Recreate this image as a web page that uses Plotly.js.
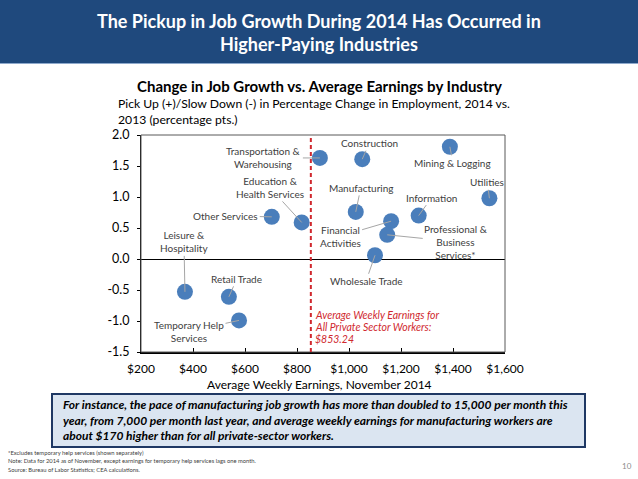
<!DOCTYPE html>
<html>
<head>
<meta charset="utf-8">
<script src="https://cdn.plot.ly/plotly-3.0.1.min.js"></script>
<style>
  html, body { margin: 0; padding: 0; background: #ffffff; }
  #chart { width: 638px; height: 479px; }
</style>
</head>
<body>
<div id="chart"></div>
<script>
// ---------- DATA ----------
const industries = [
  "Transportation & Warehousing", "Construction", "Mining & Logging", "Utilities",
  "Manufacturing", "Information", "Other Services", "Education & Health Services",
  "Financial Activities", "Professional & Business Services*", "Wholesale Trade",
  "Leisure & Hospitality", "Retail Trade", "Temporary Help Services"
];
const labelText = [
  "Transportation &<br>Warehousing", "Construction", "Mining & Logging", "Utilities",
  "Manufacturing", "Information", "Other Services", "Education &<br>Health Services",
  "Financial<br>Activities", "Professional &<br>Business<br>Services*", "Wholesale Trade",
  "Leisure &<br>Hospitality", "Retail Trade", "Temporary Help<br>Services"
];
const earnings = [888, 1051, 1388, 1540, 1026, 1268, 703, 818, 1162, 1147, 1100, 369, 538, 577];
const change   = [1.63, 1.61, 1.81, 0.98, 0.76, 0.70, 0.68, 0.59, 0.61, 0.39, 0.06, -0.53, -0.61, -0.99];
const avgPrivateEarnings = 853.24;

const xTickVals = [200, 400, 600, 800, 1000, 1200, 1400, 1600];
const xTickText = ["$200", "$400", "$600", "$800", "$1,000", "$1,200", "$1,400", "$1,600"];
const yTickVals = [-1.5, -1.0, -0.5, 0.0, 0.5, 1.0, 1.5, 2.0];
const yTickText = ["-1.5", "-1.0", "-0.5", "0.0", "0.5", "1.0", "1.5", "2.0"];

const bannerLines = ["The Pickup in Job Growth During 2014 Has Occurred in", "Higher-Paying Industries"];
const chartTitle = "Change in Job Growth vs. Average Earnings by Industry";
const yDescription = ["Pick Up (+)/Slow Down (-) in Percentage Change in Employment, 2014 vs.", "2013 (percentage pts.)"];
const xTitle = "Average Weekly Earnings, November 2014";
const avgLines = ["Average Weekly Earnings for", "All Private Sector Workers:", "$" + avgPrivateEarnings.toFixed(2)];
const calloutLines = [
  "For instance, the pace of manufacturing job growth has more than doubled to 15,000 per month this",
  "year, from 7,000 per month last year, and average weekly earnings for manufacturing workers are",
  "about $170 higher than for all private-sector workers."
];
const footLines = [
  "*Excludes temporary help services (shown separately)",
  "Note: Data for 2014 as of November, except earnings for temporary help services lags one month.",
  "Source: Bureau of Labor Statistics; CEA calculations."
];

// ---------- LAYOUT HELPERS (label offsets in pixels) ----------
const labelOffsets = [
  [-56, 0], [7, -16], [3, 16], [-2, -16], [5, -24], [13, -18], [-46, -1],
  [-32, -35], [-51, 15], [69, 7], [-9, 26], [-1, -50], [8, -18], [-50, 11]
];

const M = { l: 141, r: 133, t: 135, b: 127 };
const W = 638, H = 479;
const PW = W - M.l - M.r, PH = H - M.t - M.b;
const px = v => (v - M.l) / PW;        // pixel x -> paper x
const py = v => (H - M.b - v) / PH;    // pixel y -> paper y

const FONT = "Lato, 'Open Sans', sans-serif";

const annotations = [];
function textAt(x, y, text, font, xanchor) {
  annotations.push({
    xref: "paper", yref: "paper", x: px(x), y: py(y),
    xanchor: xanchor || "center", yanchor: "middle",
    text: text, showarrow: false, align: xanchor || "center", font: font
  });
}

// point labels with leader lines
industries.forEach((name, i) => {
  annotations.push({
    x: earnings[i], y: change[i], xref: "x", yref: "y",
    text: labelText[i], showarrow: true, arrowhead: 0, arrowwidth: 1,
    arrowcolor: "#a6a6a6", standoff: 0, startstandoff: 0,
    ax: labelOffsets[i][0], ay: labelOffsets[i][1],
    font: { family: FONT, size: 10, color: "#404040" }, align: "center"
  });
});

// red average annotation
avgLines.forEach((t, i) => textAt(313, 315 + 12 * i, "<i>" + t + "</i>",
  { family: FONT, size: 10.5, color: "#d0282e" }, "left"));

// banner title
bannerLines.forEach((t, i) => textAt(319, 21 + 23 * i, "<b>" + t + "</b>",
  { family: FONT, size: 18, color: "#ffffff" }));

// chart title
textAt(319, 86, "<b>" + chartTitle + "</b>", { family: FONT, size: 15, color: "#000000" });

// y-axis description (horizontal)
yDescription.forEach((t, i) => textAt(116, 103 + 16 * i, t,
  { family: FONT, size: 12.2, color: "#000000" }, "left"));

// x-axis title
textAt(319, 384.5, xTitle, { family: FONT, size: 12, color: "#000000" });

// callout box text (one block, so lines never overlap)
textAt(61, 420, "<b><i>" + calloutLines.join("<br>") + "</i></b>",
  { family: FONT, size: 12, color: "#000000" }, "left");

// footnotes
footLines.forEach((t, i) => textAt(6, 452 + 8.6 * i, t,
  { family: FONT, size: 5.8, color: "#404040" }, "left"));
textAt(627, 466, "10", { family: FONT, size: 8, color: "#8c8c8c" });

const shapes = [
  // banner
  { type: "rect", xref: "paper", yref: "paper", x0: px(0), x1: px(W), y0: py(0), y1: py(63),
    fillcolor: "#1f497d", line: { width: 0 }, layer: "below" },
  { type: "line", xref: "paper", yref: "paper", x0: px(0), x1: px(W), y0: py(63.5), y1: py(63.5),
    line: { color: "#8ea9cc", width: 1 } },
  // plot frame
  { type: "rect", xref: "paper", yref: "paper", x0: 0, x1: 1, y0: 0, y1: 1,
    line: { color: "#595959", width: 1 }, layer: "above" },
  // average earnings line
  { type: "line", xref: "x", yref: "paper", x0: avgPrivateEarnings, x1: avgPrivateEarnings, y0: 0, y1: 1,
    line: { color: "#d0282e", width: 2, dash: "4px,3px" } },
  // callout box
  { type: "rect", xref: "paper", yref: "paper", x0: px(52), x1: px(585), y0: py(447), y1: py(394),
    fillcolor: "#dbe5f1", line: { color: "#1f3864", width: 2 }, layer: "below" }
];

const trace = {
  type: "scatter", mode: "markers", x: earnings, y: change, text: industries,
  hoverinfo: "text+x+y",
  marker: { size: 16, color: "#4a7ebb", line: { width: 0 } },
  cliponaxis: false
};

const layout = {
  width: W, height: H,
  margin: M,
  paper_bgcolor: "#ffffff", plot_bgcolor: "#ffffff",
  showlegend: false,
  font: { family: FONT, color: "#000000" },
  xaxis: {
    range: [200, 1600], tickvals: xTickVals, ticktext: xTickText,
    showgrid: false, zeroline: false, showline: true, linecolor: "#000000", linewidth: 1.5,
    ticks: "inside", ticklen: 4, tickcolor: "#000000", tickwidth: 1, ticklabelstandoff: 5,
    tickfont: { family: FONT, size: 12, color: "#000000" }, fixedrange: true
  },
  yaxis: {
    range: [-1.5, 2.0], tickvals: yTickVals, ticktext: yTickText,
    showgrid: false, zeroline: true, zerolinecolor: "#000000", zerolinewidth: 1,
    showline: true, linecolor: "#000000", linewidth: 1,
    ticks: "outside", ticklen: 3, tickcolor: "#000000", ticklabelstandoff: 5,
    tickfont: { family: FONT, size: 12.5, color: "#000000" }, fixedrange: true
  },
  shapes: shapes,
  annotations: annotations
};

Plotly.newPlot("chart", [trace], layout, { displayModeBar: false, staticPlot: true });
</script>
</body>
</html>
